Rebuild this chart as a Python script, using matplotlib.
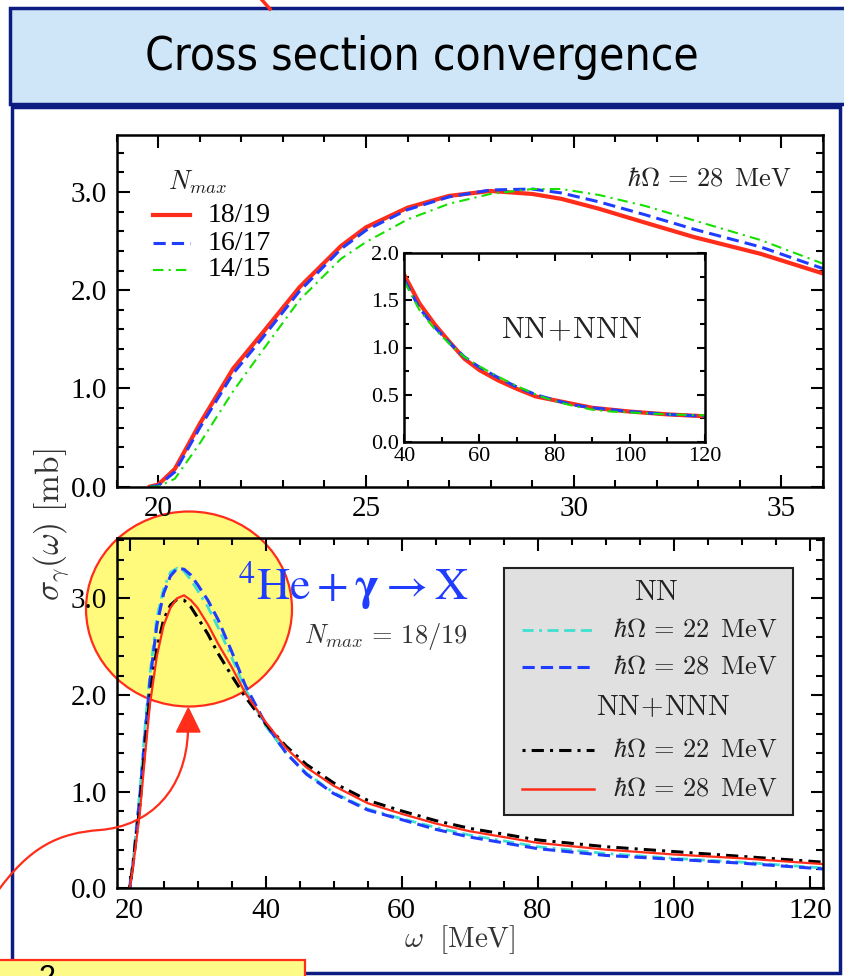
import numpy as np
import matplotlib
matplotlib.use("Agg")
import matplotlib.pyplot as plt
from matplotlib.patches import Rectangle, Ellipse, PathPatch, Polygon
from matplotlib.path import Path
from matplotlib.lines import Line2D
from matplotlib.ticker import MultipleLocator

plt.rcParams['font.family'] = ['Liberation Serif', 'DejaVu Serif']
plt.rcParams['mathtext.fontset'] = 'cm'

# --- data: top panel, hbar*Omega = 28 MeV, NN+NNN, different N_max ---
top_w = [19.8, 20.0, 20.4, 21.0, 21.8, 22.5, 23.4, 24.4, 25.0, 26.0, 27.0, 28.0,
         29.0, 29.7, 30.6, 31.7, 32.9, 34.5, 36.0]
top_18 = [0.0, 0.02, 0.18, 0.64, 1.20, 1.56, 2.03, 2.45, 2.64, 2.84, 2.96, 3.01,
          2.98, 2.93, 2.83, 2.69, 2.54, 2.37, 2.17]
top_16 = [0.0, 0.01, 0.15, 0.60, 1.15, 1.51, 1.99, 2.42, 2.61, 2.82, 2.95, 3.02,
          3.03, 2.99, 2.90, 2.77, 2.62, 2.44, 2.22]
top_14 = [0.0, 0.0, 0.08, 0.44, 0.97, 1.38, 1.90, 2.32, 2.49, 2.72, 2.88, 2.98,
          3.03, 3.03, 2.97, 2.86, 2.71, 2.51, 2.27]
nmax_labels = ['18/19', '16/17', '14/15']

# inset: tail of the same curves
ins_w = [40, 44, 48, 52, 56, 60, 65, 70, 75, 80, 85, 90, 95, 100, 110, 120]
ins_18 = [1.77, 1.47, 1.25, 1.06, 0.88, 0.76, 0.65, 0.56, 0.48, 0.44, 0.40, 0.36,
          0.34, 0.32, 0.29, 0.27]
ins_16 = [1.72, 1.42, 1.22, 1.05, 0.90, 0.79, 0.68, 0.58, 0.50, 0.44, 0.39, 0.36,
          0.34, 0.32, 0.29, 0.27]
ins_14 = [1.70, 1.40, 1.20, 1.04, 0.90, 0.80, 0.69, 0.59, 0.50, 0.43, 0.38, 0.34,
          0.32, 0.31, 0.29, 0.28]

# --- data: bottom panel, N_max = 18/19 ---
bot_w = [20, 20.5, 21.5, 22.3, 23, 24, 25, 26, 27, 28, 29, 30, 31.5, 33, 35, 37,
         40, 43, 46, 50, 55, 60, 65, 70, 80, 90, 100, 110, 122]
nn_22 = [0, 0.28, 1.00, 1.70, 2.22, 2.80, 3.10, 3.27, 3.31, 3.28, 3.19, 3.08, 2.91,
         2.70, 2.39, 2.06, 1.68, 1.40, 1.19, 0.99, 0.82, 0.72, 0.63, 0.55, 0.43,
         0.36, 0.31, 0.27, 0.21]
nn_28 = [0, 0.25, 0.95, 1.62, 2.15, 2.72, 3.05, 3.23, 3.31, 3.30, 3.24, 3.14, 2.98,
         2.78, 2.45, 2.10, 1.70, 1.40, 1.18, 0.98, 0.81, 0.71, 0.61, 0.53, 0.41,
         0.34, 0.30, 0.26, 0.20]
nnn_22 = [0, 0.25, 0.85, 1.50, 2.00, 2.48, 2.78, 2.93, 2.99, 2.98, 2.91, 2.80, 2.63,
          2.43, 2.20, 1.98, 1.70, 1.47, 1.28, 1.09, 0.91, 0.80, 0.70, 0.62, 0.50,
          0.43, 0.38, 0.33, 0.27]
nnn_28 = [0, 0.22, 0.78, 1.40, 1.91, 2.40, 2.72, 2.90, 3.00, 3.03, 2.98, 2.90, 2.73,
          2.53, 2.29, 2.02, 1.72, 1.45, 1.25, 1.06, 0.88, 0.77, 0.67, 0.59, 0.47,
          0.40, 0.35, 0.31, 0.25]

RED = '#ff2d1a'
BLUE = '#1f3cff'
GREEN = '#16e000'
CYAN = '#3fe0d0'
NAVY = '#0c1c80'

W, H = 845, 976
fig = plt.figure(figsize=(W / 100, H / 100), dpi=100)


def fx(x):
    return x / W


def fy(y):
    return 1 - y / H


def box(l, t, r, b):
    return [fx(l), fy(b), (r - l) / W, (b - t) / H]


# slide decoration: title banner and framed body
fig.patches.append(Rectangle((fx(12), fy(973)), (840 - 12) / W, (973 - 107) / H,
                             transform=fig.transFigure, facecolor='white',
                             edgecolor=NAVY, lw=2.5, zorder=-3))
fig.patches.append(Rectangle((fx(10), fy(104)), (852 - 10) / W, (104 - 8) / H,
                             transform=fig.transFigure, facecolor='#cfe6f8',
                             edgecolor=NAVY, lw=2.5, zorder=-2))
fig.text(fx(422), fy(57), 'Cross section convergence', ha='center', va='center',
         fontsize=33, fontstretch='condensed',
         family=['DejaVu Sans Condensed', 'DejaVu Sans'])
fig.add_artist(Line2D([fx(262), fx(270)], [fy(0), fy(9)], color=RED, lw=2.5))

# yellow highlight behind the peak
fig.patches.append(Ellipse((fx(189), fy(609)), 206 / W, 195 / H,
                           transform=fig.transFigure, facecolor='#fff97c',
                           edgecolor=RED, lw=1.6, zorder=-1))


def style_axes(ax, fs, major_len, minor_len):
    for s in ax.spines.values():
        s.set_linewidth(1.8)
    ax.tick_params(which='both', direction='in', top=True, right=True, width=1.5,
                   labelsize=fs, colors='black')
    ax.tick_params(which='major', length=major_len, pad=7)
    ax.tick_params(which='minor', length=minor_len)


# --- top panel ---
ax1 = fig.add_axes(box(116.7, 135, 823, 486.6))
ax1.set_facecolor('none')
ax1.plot(top_w, top_18, color=RED, lw=3.0)
ax1.plot(top_w, top_16, color=BLUE, lw=2.2, ls=(0, (4, 2)))
ax1.plot(top_w, top_14, color=GREEN, lw=1.5, ls=(0, (5, 2.5, 1, 2.5)))
ax1.set_xlim(19, 36)
ax1.set_ylim(0, 3.58)
ax1.xaxis.set_major_locator(MultipleLocator(5))
ax1.xaxis.set_minor_locator(MultipleLocator(1))
ax1.yaxis.set_major_locator(MultipleLocator(1))
ax1.yaxis.set_minor_locator(MultipleLocator(0.2))
ax1.yaxis.set_major_formatter(lambda v, p: f'{v:.1f}')
style_axes(ax1, 21, 9, 5)

# legend of the top panel
fig.text(fx(168), fy(182), r'$N_{max}$', fontsize=19, va='center', color='#222222')
for yy, c, lw, ls, lab in [(215, RED, 3.0, '-', nmax_labels[0]),
                           (243, BLUE, 2.2, (0, (4, 2)), nmax_labels[1]),
                           (270, GREEN, 1.5, (0, (5, 2.5, 1, 2.5)), nmax_labels[2])]:
    fig.add_artist(Line2D([fx(153), fx(190)], [fy(yy), fy(yy)], color=c, lw=lw, ls=ls))
    fig.text(fx(208), fy(yy), lab, fontsize=20, va='center')
fig.text(fx(792), fy(179), r'$\hbar\Omega\,=\,28\ \,\mathrm{MeV}$', ha='right',
         va='center', fontsize=19, color='#222222')

# --- inset ---
ax_in = fig.add_axes(box(404.3, 253.3, 705, 441.7))
ax_in.set_facecolor('white')
ax_in.plot(ins_w, ins_18, color=RED, lw=3.0)
ax_in.plot(ins_w, ins_16, color=BLUE, lw=2.2, ls=(0, (4, 2)))
ax_in.plot(ins_w, ins_14, color=GREEN, lw=1.5, ls=(0, (5, 2.5, 1, 2.5)))
ax_in.set_xlim(40, 120)
ax_in.set_ylim(0, 2.0)
ax_in.xaxis.set_major_locator(MultipleLocator(20))
ax_in.xaxis.set_minor_locator(MultipleLocator(10))
ax_in.yaxis.set_major_locator(MultipleLocator(0.5))
ax_in.yaxis.set_minor_locator(MultipleLocator(0.25))
ax_in.yaxis.set_major_formatter(lambda v, p: f'{v:.1f}')
style_axes(ax_in, 16, 6, 3.5)
ax_in.tick_params(which='major', pad=4)
ax_in.text(0.555, 0.59, r'$\mathrm{NN\!+\!NNN}$', transform=ax_in.transAxes,
           ha='center', va='center', fontsize=22, color='#222222')

# --- bottom panel ---
ax2 = fig.add_axes(box(116.7, 538.3, 822.7, 888.3))
ax2.set_facecolor('none')
ls_cyan = (0, (4, 2, 1, 2, 4, 2, 4, 2))
ls_black = (0, (1, 2, 4, 2))
ax2.plot(bot_w, nn_22, color=CYAN, lw=2.0, ls=ls_cyan)
ax2.plot(bot_w, nn_28, color=BLUE, lw=2.2, ls=(0, (4, 2)))
ax2.plot(bot_w, nnn_22, color='black', lw=2.2, ls=ls_black)
ax2.plot(bot_w, nnn_28, color=RED, lw=1.6)
ax2.set_xlim(18.1, 121.9)
ax2.set_ylim(0, 3.62)
ax2.xaxis.set_major_locator(MultipleLocator(20))
ax2.xaxis.set_minor_locator(MultipleLocator(5))
ax2.yaxis.set_major_locator(MultipleLocator(1))
ax2.yaxis.set_minor_locator(MultipleLocator(0.2))
ax2.yaxis.set_major_formatter(lambda v, p: f'{v:.1f}')
style_axes(ax2, 21, 9, 5)

fig.text(fx(460), fy(940), r'$\omega\ \ [\mathrm{MeV}]$', ha='center', va='center',
         fontsize=21, color='#333333')
fig.text(fx(52), fy(525), r'$\sigma_\gamma(\omega)\ [\mathrm{mb}]$', ha='center',
         va='center', rotation=90, fontsize=24, color='#333333')

fig.text(fx(238), fy(586), r'$^4\mathrm{He}+\mathbf{\gamma}\rightarrow\mathrm{X}$',
         ha='left', va='center', fontsize=33, color=BLUE, math_fontfamily='stix')
fig.text(fx(386), fy(637), r'$N_{max}\,=\,18/19$', ha='center', va='center',
         fontsize=19, color='#333333')

# legend of the bottom panel
fig.patches.append(Rectangle((fx(504), fy(815)), (793 - 504) / W, (815 - 568) / H,
                             transform=fig.transFigure, facecolor='#e0e0e0',
                             edgecolor='#222222', lw=1.5, zorder=2))
fig.text(fx(656), fy(593), r'$\mathrm{NN}$', ha='center', va='center', fontsize=21,
         color='#222222', zorder=3)
fig.text(fx(663), fy(708), r'$\mathrm{NN\!+\!NNN}$', ha='center', va='center',
         fontsize=21, color='#222222', zorder=3)
for yy, c, lw, ls, lab in [(630, CYAN, 2.0, ls_cyan, r'$\hbar\Omega\,=\,22\ \,\mathrm{MeV}$'),
                           (667, BLUE, 2.2, (0, (4, 2)), r'$\hbar\Omega\,=\,28\ \,\mathrm{MeV}$'),
                           (750, 'black', 2.2, ls_black, r'$\hbar\Omega\,=\,22\ \,\mathrm{MeV}$'),
                           (789, RED, 1.8, '-', r'$\hbar\Omega\,=\,28\ \,\mathrm{MeV}$')]:
    fig.add_artist(Line2D([fx(522), fx(594)], [fy(yy), fy(yy)], color=c, lw=lw, ls=ls,
                          zorder=3))
    fig.text(fx(613), fy(yy), lab, va='center', fontsize=19, color='#222222', zorder=3)

# curved red arrow pointing at the highlight
verts = [(-5, 895), (30, 845), (60, 833), (100, 830),
         (150, 826), (186, 790), (188, 731)]
codes = [Path.MOVETO, Path.CURVE4, Path.CURVE4, Path.CURVE4,
         Path.CURVE4, Path.CURVE4, Path.CURVE4]
arrow_path = Path([(fx(x), fy(y)) for x, y in verts], codes)
fig.patches.append(PathPatch(arrow_path, transform=fig.transFigure, facecolor='none',
                             edgecolor=RED, lw=1.6, zorder=5))
fig.patches.append(Polygon([(fx(176.5), fy(732)), (fx(200), fy(732)), (fx(188.3), fy(708))],
                           closed=True, transform=fig.transFigure, facecolor=RED,
                           edgecolor=RED, zorder=5))

# note box at the lower left
fig.patches.append(Rectangle((fx(-5), fy(990)), (305 + 5) / W, (990 - 960) / H,
                             transform=fig.transFigure, facecolor='#fdfa88',
                             edgecolor=RED, lw=1.6, zorder=5))
fig.text(fx(47), fy(964), '2', ha='center', va='top', fontsize=22, zorder=6,
         family=['Liberation Sans', 'DejaVu Sans'])

fig.savefig('out.png', dpi=100)
